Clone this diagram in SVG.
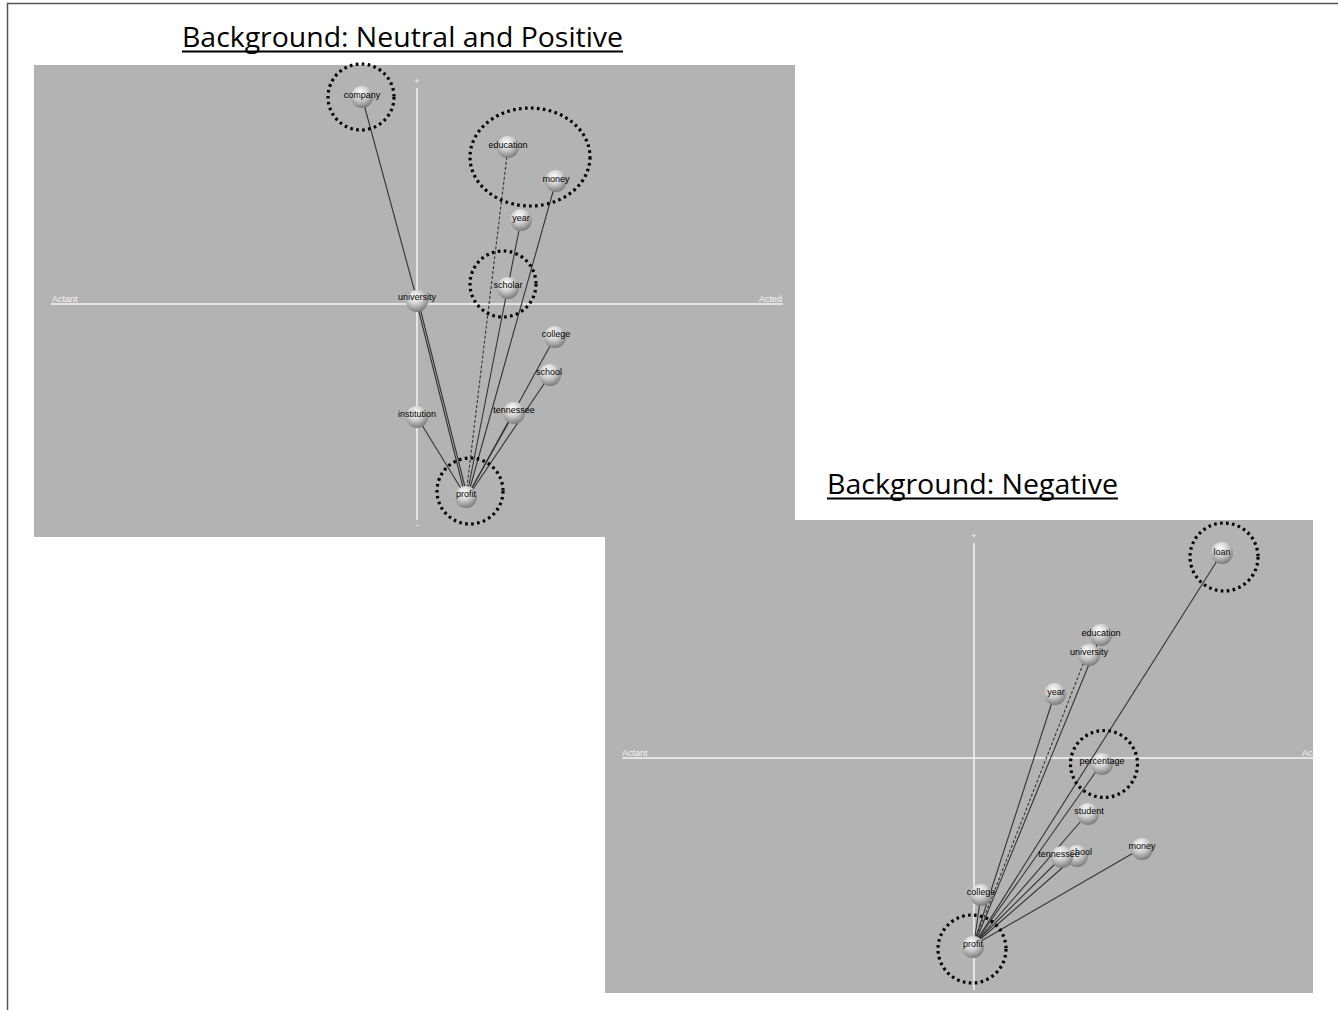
<svg xmlns="http://www.w3.org/2000/svg" width="1338" height="1010" viewBox="0 0 1338 1010">
<defs>
<radialGradient id="sph" cx="0.42" cy="0.3" r="0.75">
<stop offset="0" stop-color="#ffffff"/>
<stop offset="0.45" stop-color="#d0d0d0"/>
<stop offset="1" stop-color="#707070"/>
</radialGradient>
<clipPath id="clipB"><rect x="605" y="520" width="708" height="473"/></clipPath>
<style>
.panel{fill:#b3b3b3}
.axis{stroke:#f4f4f4;stroke-width:1.5}
.ax{font-family:"Liberation Sans",Arial,sans-serif;font-size:9px;fill:#f4f4f4}
.title{font-family:"Open Sans","Liberation Sans",Arial,sans-serif;font-size:28px;fill:#000}
.edge{stroke:#333;stroke-width:1.1;fill:none}
.dash{stroke-dasharray:3 2}
.sphere{fill:url(#sph)}
.lbl{font-family:"Liberation Sans",Arial,sans-serif;font-size:9px;fill:#000;text-anchor:middle}
.ring{fill:none;stroke:#000;stroke-width:3.2;stroke-dasharray:2.6 3.4}
</style>
</defs>
<rect width="1338" height="1010" fill="#fff"/>
<path d="M7.5 1010 V3.5 H1338" fill="none" stroke="#555" stroke-width="1.5"/>

<text class="title" x="182" y="47" textLength="441" lengthAdjust="spacingAndGlyphs">Background: Neutral and Positive</text>
<line x1="182" y1="51.5" x2="623" y2="51.5" stroke="#000" stroke-width="2"/>
<text class="title" x="827" y="494" textLength="291" lengthAdjust="spacingAndGlyphs">Background: Negative</text>
<line x1="827" y1="498.5" x2="1118" y2="498.5" stroke="#000" stroke-width="2"/>

<!-- top panel -->
<rect class="panel" x="34" y="65" width="761" height="472"/>
<line class="axis" x1="51" y1="304" x2="783" y2="304"/>
<line class="axis" x1="417" y1="88" x2="417" y2="520"/>
<text class="ax" x="417" y="84" text-anchor="middle">+</text>
<text class="ax" x="417" y="528" text-anchor="middle">-</text>
<text class="ax" x="52" y="302">Actant</text>
<text class="ax" x="759" y="302">Acted</text>

<!-- bottom panel -->
<rect class="panel" x="605" y="520" width="708" height="473"/>
<g clip-path="url(#clipB)">
<line class="axis" x1="622" y1="758" x2="1320" y2="758"/>
<line class="axis" x1="974" y1="543" x2="974" y2="990"/>
<text class="ax" x="974" y="539" text-anchor="middle">+</text>
<text class="ax" x="622" y="756">Actant</text>
<text class="ax" x="1302" y="756">Acted</text>
</g>

<g id="connectors">
<line class="edge" x1="362" y1="97" x2="417" y2="300"/>
<line class="edge" x1="416" y1="300" x2="465" y2="495"/>
<line class="edge" x1="418" y1="300" x2="467" y2="495"/>
<line class="edge dash" x1="508" y1="147" x2="466" y2="495"/>
<line class="edge" x1="521" y1="220" x2="467" y2="495"/>
<line class="edge" x1="556" y1="181" x2="468" y2="495"/>
<line class="edge" x1="555" y1="337" x2="468" y2="495"/>
<line class="edge" x1="550" y1="375" x2="469" y2="495"/>
<line class="edge" x1="514" y1="413" x2="468" y2="495"/>
<line class="edge" x1="417" y1="417" x2="465" y2="495"/>

<line class="edge" x1="1222" y1="553" x2="975" y2="943"/>
<line class="edge" x1="1101" y1="635" x2="975" y2="943"/>
<line class="edge dash" x1="1087" y1="654" x2="974" y2="943"/>
<line class="edge" x1="1055" y1="693" x2="974" y2="943"/>
<line class="edge" x1="1102" y1="763" x2="975" y2="943"/>
<line class="edge" x1="1088" y1="813" x2="975" y2="943"/>
<line class="edge" x1="1062" y1="857" x2="975" y2="943"/>
<line class="edge" x1="1077" y1="855" x2="976" y2="943"/>
<line class="edge" x1="1142" y1="848" x2="976" y2="944"/>
<line class="edge" x1="981" y1="895" x2="974" y2="943"/>
</g>

<!-- top nodes -->
<g id="t-company"><circle class="sphere" cx="362" cy="97" r="11"/><text class="lbl" x="362" y="98">company</text></g>
<g id="t-education"><circle class="sphere" cx="508" cy="147" r="11"/><text class="lbl" x="508" y="148">education</text></g>
<g id="t-money"><circle class="sphere" cx="556" cy="181" r="11"/><text class="lbl" x="556" y="182">money</text></g>
<g id="t-year"><circle class="sphere" cx="521" cy="220" r="11"/><text class="lbl" x="521" y="221">year</text></g>
<g id="t-scholar"><circle class="sphere" cx="508" cy="288" r="11"/><text class="lbl" x="508" y="288">scholar</text></g>
<g id="t-university"><circle class="sphere" cx="417" cy="301" r="11"/><text class="lbl" x="417" y="300">university</text></g>
<g id="t-college"><circle class="sphere" cx="555" cy="337" r="11"/><text class="lbl" x="556" y="337">college</text></g>
<g id="t-school"><circle class="sphere" cx="550" cy="375" r="11"/><text class="lbl" x="549" y="375">school</text></g>
<g id="t-tennessee"><circle class="sphere" cx="514" cy="413" r="11"/><text class="lbl" x="514" y="413">tennessee</text></g>
<g id="t-institution"><circle class="sphere" cx="417" cy="417" r="11"/><text class="lbl" x="417" y="417">institution</text></g>
<g id="t-profit"><circle class="sphere" cx="466" cy="497" r="11"/><text class="lbl" x="466" y="497">profit</text></g>

<!-- bottom nodes -->
<g id="b-loan"><circle class="sphere" cx="1222" cy="553" r="11"/><text class="lbl" x="1222" y="555">loan</text></g>
<g id="b-education"><circle class="sphere" cx="1101" cy="635" r="11"/><text class="lbl" x="1101" y="636">education</text></g>
<g id="b-university"><circle class="sphere" cx="1089" cy="655" r="11"/><text class="lbl" x="1089" y="655">university</text></g>
<g id="b-year"><circle class="sphere" cx="1055" cy="694" r="11"/><text class="lbl" x="1056" y="695">year</text></g>
<g id="b-percentage"><circle class="sphere" cx="1102" cy="764" r="11"/><text class="lbl" x="1102" y="764">percentage</text></g>
<g id="b-student"><circle class="sphere" cx="1088" cy="814" r="11"/><text class="lbl" x="1089" y="814">student</text></g>
<g id="b-school"><circle class="sphere" cx="1077" cy="856" r="11"/><text class="lbl" x="1079" y="855">school</text></g>
<g id="b-tennessee"><circle class="sphere" cx="1062" cy="857" r="11"/><text class="lbl" x="1059" y="857">tennessee</text></g>
<g id="b-money"><circle class="sphere" cx="1142" cy="849" r="11"/><text class="lbl" x="1142" y="849">money</text></g>
<g id="b-college"><circle class="sphere" cx="981" cy="895" r="11"/><text class="lbl" x="981" y="895">college</text></g>
<g id="b-profit"><circle class="sphere" cx="973" cy="947" r="11"/><text class="lbl" x="973" y="947">profit</text></g>

<g id="rings">
<circle class="ring" cx="361" cy="97" r="33"/>
<ellipse class="ring" cx="530" cy="157" rx="60" ry="49"/>
<circle class="ring" cx="503" cy="284" r="33"/>
<circle class="ring" cx="470" cy="491" r="33"/>
<circle class="ring" cx="1224" cy="557" r="34"/>
<circle class="ring" cx="1104" cy="764" r="33.5"/>
<circle class="ring" cx="972" cy="949" r="34"/>
</g>
</svg>
